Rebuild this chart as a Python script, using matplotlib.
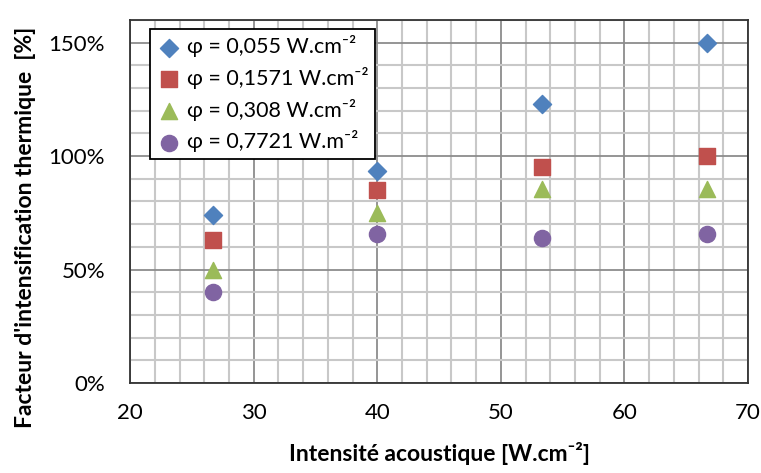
import numpy as np
import matplotlib.pyplot as plt
from matplotlib.ticker import MultipleLocator, PercentFormatter

plt.rcParams['font.family'] = ['Lato', 'DejaVu Sans']

intensite = [26.7, 40.0, 53.3, 66.7]
phi_0055 = [0.74, 0.935, 1.23, 1.50]
phi_01571 = [0.63, 0.85, 0.95, 1.00]
phi_0308 = [0.50, 0.75, 0.855, 0.855]
phi_07721 = [0.40, 0.655, 0.64, 0.655]
labels = ['φ = 0,055 W.cm⁻²',
          'φ = 0,1571 W.cm⁻²',
          'φ = 0,308 W.cm⁻²',
          'φ = 0,7721 W.m⁻²']

fig = plt.figure(figsize=(7.61, 4.73), dpi=100)
ax = fig.add_axes([0.171, 0.19, 0.812, 0.768])

ax.scatter(intensite, phi_0055, marker='D', s=85, color='#4F81BD', label=labels[0], zorder=3)
ax.scatter(intensite, phi_01571, marker='s', s=120, color='#C0504D', label=labels[1], zorder=3)
ax.scatter(intensite, phi_0308, marker='^', s=135, color='#9BBB59', label=labels[2], zorder=3)
ax.scatter(intensite, phi_07721, marker='o', s=135, color='#8064A2', label=labels[3], zorder=3)

ax.set_xlim(20, 70)
ax.set_ylim(0, 1.6)
ax.xaxis.set_major_locator(MultipleLocator(10))
ax.xaxis.set_minor_locator(MultipleLocator(2))
ax.yaxis.set_major_locator(MultipleLocator(0.5))
ax.yaxis.set_minor_locator(MultipleLocator(0.1))
ax.yaxis.set_major_formatter(PercentFormatter(1.0, decimals=0))
ax.grid(which='major', color='#8c8c8c', linewidth=1.3)
ax.grid(which='minor', color='#c8c8c8', linewidth=1.5)
ax.set_axisbelow(True)
ax.tick_params(which='both', length=0)
ax.tick_params(axis='x', pad=14, labelsize=16)
ax.tick_params(axis='y', pad=18, labelsize=16)
for s in ax.spines.values():
    s.set_color('#333333')
    s.set_linewidth(1.3)

ax.set_xlabel('Intensité acoustique [W.cm⁻²]', fontsize=16.5, fontweight='bold', labelpad=14)
ax.set_ylabel("Facteur d'intensification thermique  [%]", fontsize=16.5, fontweight='bold')
ax.yaxis.set_label_coords(-0.152, 0.43)

leg = ax.legend(loc='upper left', bbox_to_anchor=(0.032, 0.975), fontsize=15.5, frameon=True,
                fancybox=False, edgecolor='black', framealpha=1, handletextpad=0.2,
                borderpad=0.3, labelspacing=0.45, handlelength=1.2, borderaxespad=0)
leg.get_frame().set_linewidth(1.3)

fig.savefig('out.png', dpi=100)
